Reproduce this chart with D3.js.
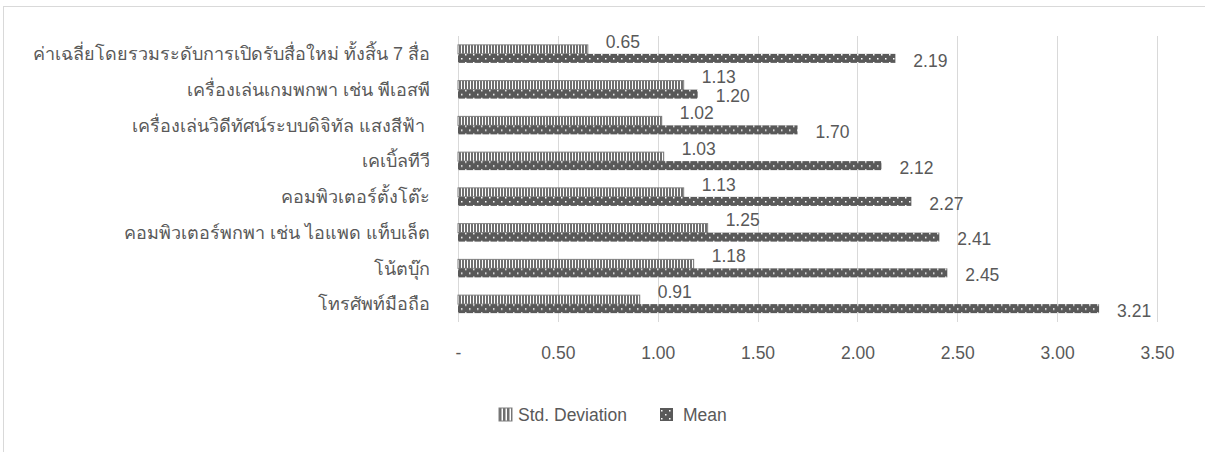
<!DOCTYPE html>
<html>
<head>
<meta charset="utf-8">
<script src="https://cdn.jsdelivr.net/npm/d3@7"></script>
<style>
  body { margin: 0; background: #fff; }
  text { font-family: "Liberation Sans", Arial, "Noto Sans", sans-serif; }
</style>
</head>
<body>
<div id="chart"></div>
<script>
const categories = [
  "ค่าเฉลี่ยโดยรวมระดับการเปิดรับสื่อใหม่ ทั้งสิ้น 7 สื่อ",
  "เครื่องเล่นเกมพกพา เช่น พีเอสพี",
  "เครื่องเล่นวิดีทัศน์ระบบดิจิทัล แสงสีฟ้า ",
  "เคเบิ้ลทีวี",
  "คอมพิวเตอร์ตั้งโต๊ะ",
  "คอมพิวเตอร์พกพา เช่น ไอแพด แท็บเล็ต",
  "โน้ตบุ๊ก",
  "โทรศัพท์มือถือ"
];
const stdValues = [0.65, 1.13, 1.02, 1.03, 1.13, 1.25, 1.18, 0.91];
const meanValues = [2.19, 1.20, 1.70, 2.12, 2.27, 2.41, 2.45, 3.21];
const seriesNames = ["Std. Deviation", "Mean"];
const tickValues = [0, 0.5, 1, 1.5, 2, 2.5, 3, 3.5];
const tickLabels = ["-", "0.50", "1.00", "1.50", "2.00", "2.50", "3.00", "3.50"];

const w = 1205, h = 452;
const textColor = "#595959";
const gridColor = "#d9d9d9";
const numFont = "17.5px";

const svg = d3.select("#chart").append("svg")
  .attr("width", w)
  .attr("height", h);

// chart frame
svg.append("rect")
  .attr("x", 3.5).attr("y", 6.5)
  .attr("width", w + 10).attr("height", h + 10)
  .attr("fill", "none")
  .attr("stroke", gridColor);

// patterns
const defs = svg.append("defs");
const stripes = defs.append("pattern")
  .attr("id", "stripes")
  .attr("patternUnits", "userSpaceOnUse")
  .attr("width", 3).attr("height", 3);
stripes.append("rect").attr("width", 3).attr("height", 3).attr("fill", "#fff");
stripes.append("rect").attr("width", 2).attr("height", 3).attr("fill", "#6f6f6f");

const legendStripes = defs.append("pattern")
  .attr("id", "legendStripes")
  .attr("patternUnits", "userSpaceOnUse")
  .attr("width", 4).attr("height", 4);
legendStripes.append("rect").attr("width", 4).attr("height", 4).attr("fill", "#fff");
legendStripes.append("rect").attr("width", 2.5).attr("height", 4).attr("fill", "#6f6f6f");

const dots = defs.append("pattern")
  .attr("id", "dots")
  .attr("patternUnits", "userSpaceOnUse")
  .attr("width", 8).attr("height", 8);
dots.append("rect").attr("width", 8).attr("height", 8).attr("fill", "#595959");
dots.append("rect").attr("x", 1).attr("y", 2).attr("width", 1.5).attr("height", 1.5).attr("fill", "#fff");
dots.append("rect").attr("x", 5).attr("y", 6).attr("width", 1.5).attr("height", 1.5).attr("fill", "#fff");

const fills = ["url(#stripes)", "url(#dots)"];
const legendFills = ["url(#legendStripes)", "url(#dots)"];
const strokes = ["#7f7f7f", "none"];

// scales
const xScale = d3.scaleLinear().domain([0, 3.5]).range([458, 1157]);
const yScale = d3.scaleBand().domain(categories).range([36, 322]);
const barH = 9;
const inner = d3.scaleBand().domain(seriesNames)
  .range([yScale.bandwidth() / 2 - barH, yScale.bandwidth() / 2 + barH]);
// labels: std sits above its bar, mean on its bar
const labelShift = [-8, 2];

// gridlines
svg.append("g")
  .selectAll("line")
  .data(tickValues)
  .enter()
  .append("line")
  .attr("x1", d => Math.round(xScale(d)) + 0.5)
  .attr("x2", d => Math.round(xScale(d)) + 0.5)
  .attr("y1", 36).attr("y2", 322)
  .attr("stroke", gridColor);

// x axis labels
const xAxis = d3.axisBottom(xScale)
  .tickValues(tickValues)
  .tickFormat((d, i) => tickLabels[i])
  .tickSize(0)
  .tickPadding(0);
const gx = svg.append("g")
  .attr("transform", "translate(0,347)")
  .call(xAxis);
gx.select(".domain").remove();
gx.selectAll("text")
  .attr("fill", textColor)
  .style("font-size", numFont)
  .style("font-family", "\"Liberation Sans\", Arial, sans-serif");

// category labels
svg.append("g")
  .selectAll("text")
  .data(categories)
  .enter()
  .append("text")
  .attr("x", 430)
  .attr("y", d => yScale(d) + yScale.bandwidth() / 2)
  .attr("dy", "0.35em")
  .attr("text-anchor", "end")
  .attr("fill", textColor)
  .style("font-size", "18px")
  .style("white-space", "pre")
  .text(d => d);

// bars
const rows = categories.map((c, i) => ({ cat: c, vals: [stdValues[i], meanValues[i]] }));
const groups = svg.append("g")
  .selectAll("g")
  .data(rows)
  .enter()
  .append("g")
  .attr("transform", d => "translate(0," + yScale(d.cat) + ")");

groups.selectAll("rect")
  .data(d => d.vals.map((v, k) => ({ v, k })))
  .enter()
  .append("rect")
  .attr("x", xScale(0))
  .attr("y", d => inner(seriesNames[d.k]))
  .attr("width", d => xScale(d.v) - xScale(0))
  .attr("height", barH)
  .attr("fill", d => fills[d.k])
  .attr("stroke", d => strokes[d.k])
  .attr("stroke-width", 1);

groups.selectAll("text.val")
  .data(d => d.vals.map((v, k) => ({ v, k })))
  .enter()
  .append("text")
  .attr("class", "val")
  .attr("x", d => xScale(d.v) + 18)
  .attr("y", d => inner(seriesNames[d.k]) + barH / 2 + labelShift[d.k])
  .attr("dy", "0.35em")
  .attr("fill", textColor)
  .style("font-size", numFont)
  .text(d => d.v.toFixed(2));

// mean bars drawn over std labels
groups.each(function() {
  const g = d3.select(this);
  g.selectAll("rect").filter(d => d.k === 1).raise();
  g.selectAll("text.val").filter(d => d.k === 1).raise();
});

// legend
const legendX = [499, 660];
const legend = svg.append("g")
  .selectAll("g")
  .data(seriesNames)
  .enter()
  .append("g")
  .attr("transform", (d, i) => "translate(" + legendX[i] + ",408)");
legend.append("rect")
  .attr("width", 13).attr("height", 13)
  .attr("fill", (d, i) => legendFills[i])
  .attr("stroke", (d, i) => strokes[i]);
legend.append("text")
  .attr("x", (d, i) => i === 0 ? 19 : 23)
  .attr("y", 6.5)
  .attr("dy", "0.35em")
  .attr("fill", textColor)
  .style("font-size", numFont)
  .text(d => d);
</script>
</body>
</html>
